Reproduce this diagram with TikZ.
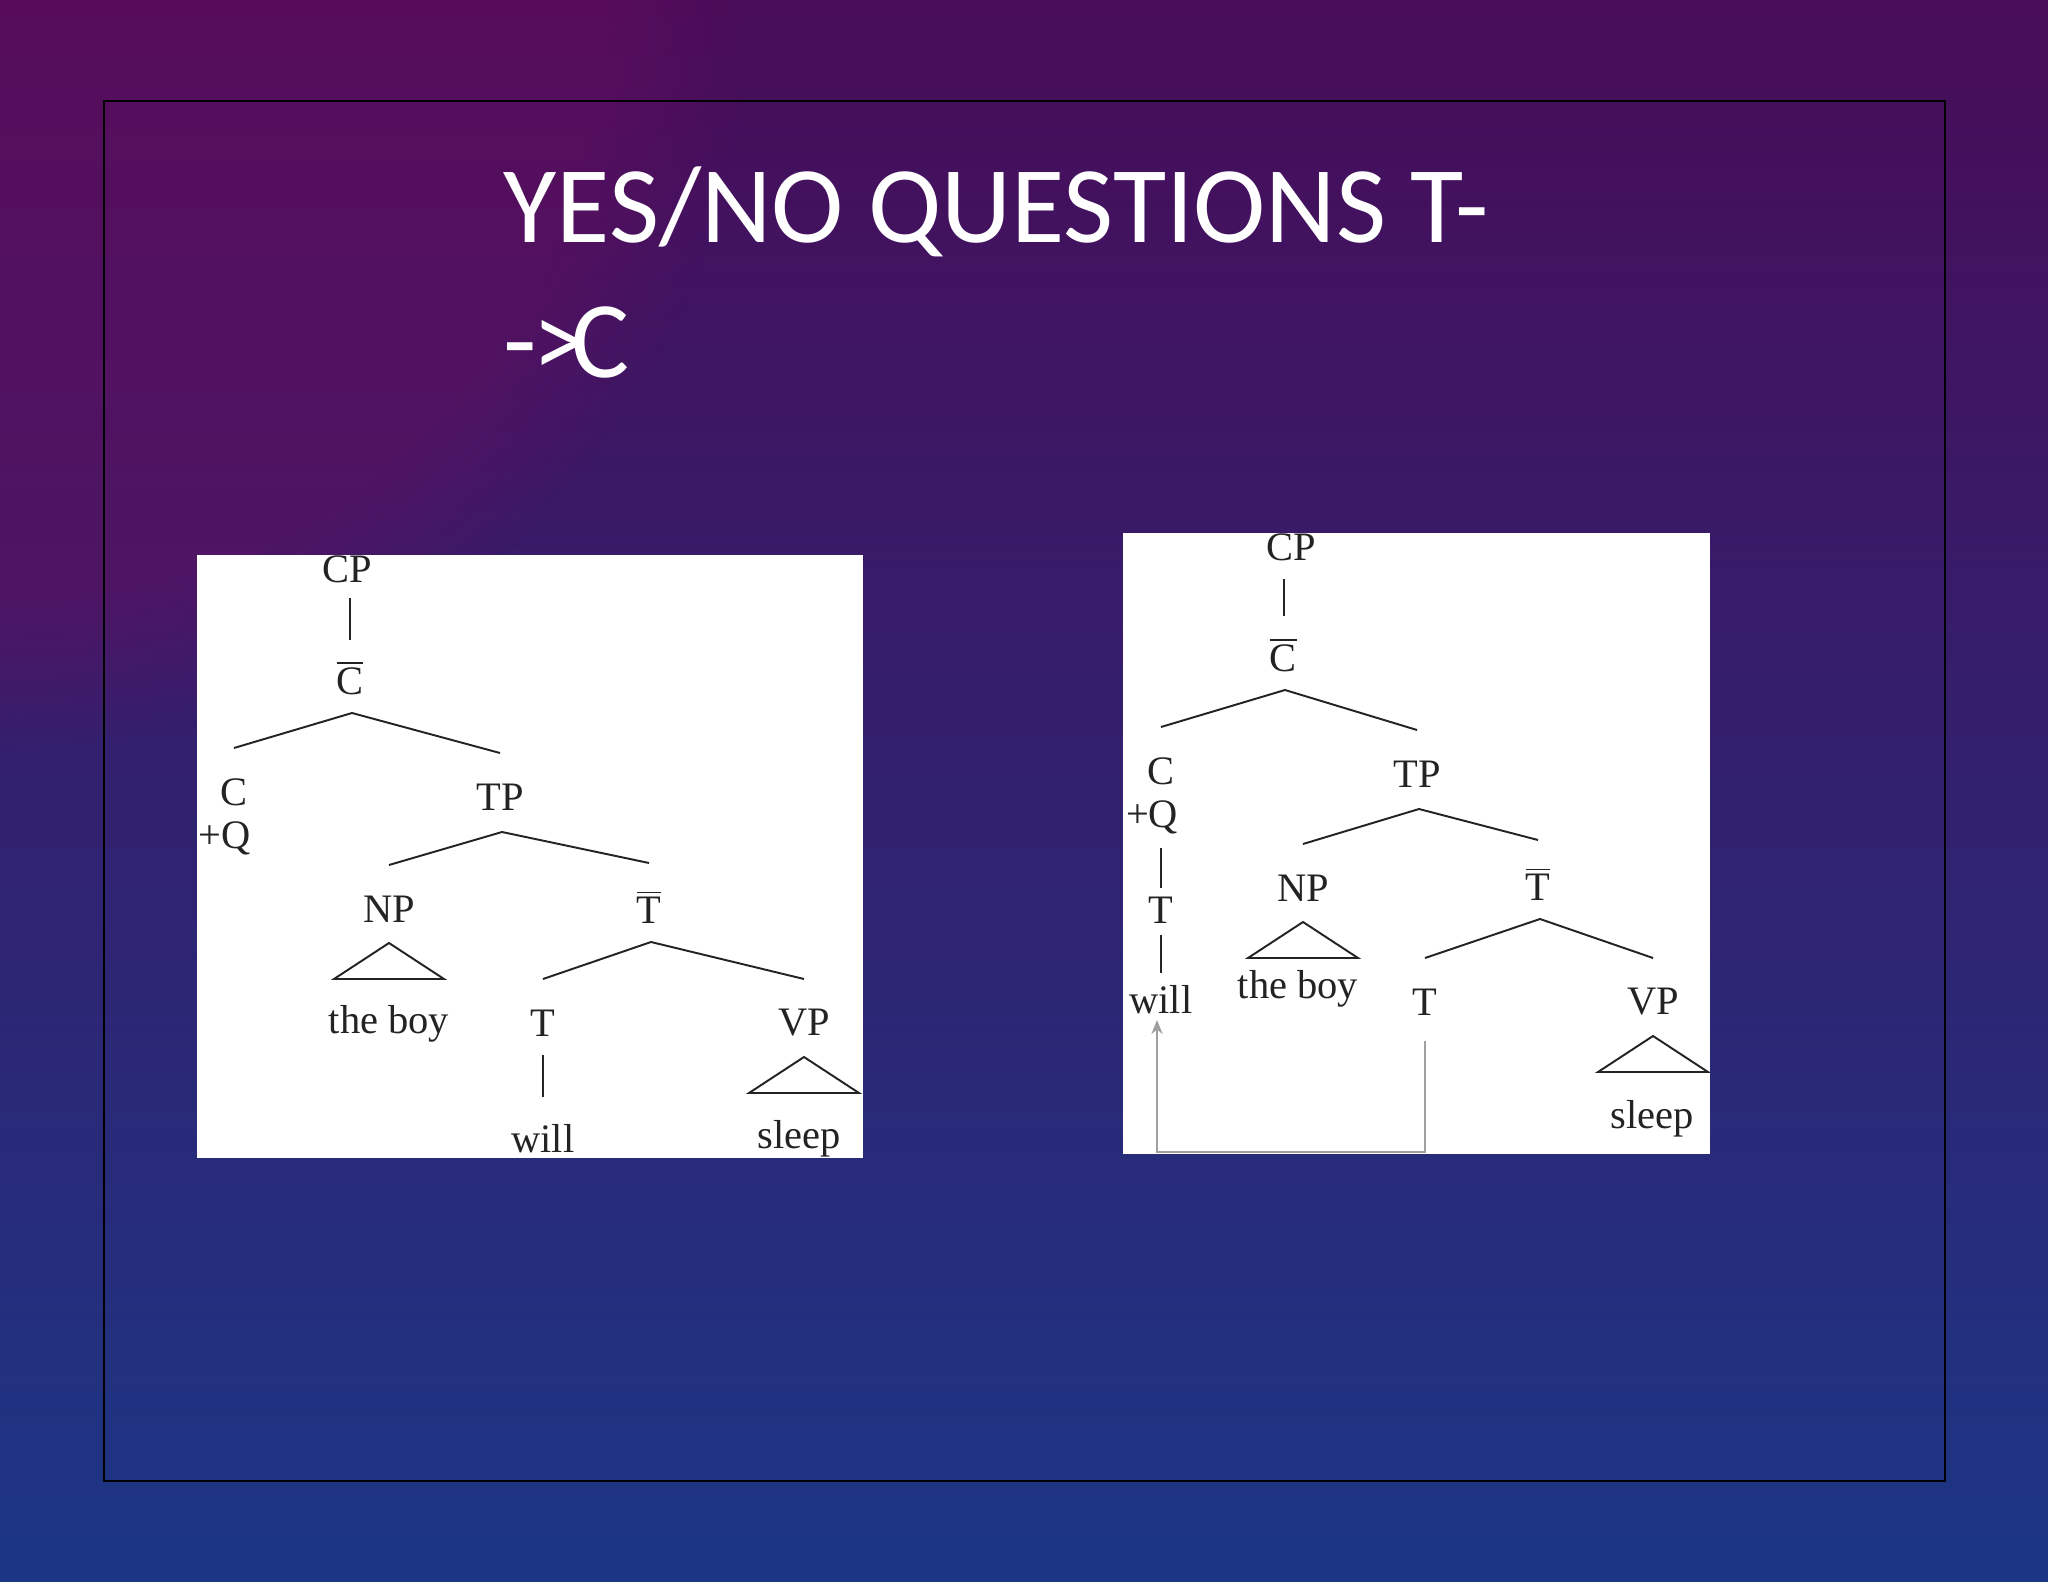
\documentclass[tikz,border=0pt]{standalone}
\usepackage{fontspec}
\setmainfont{Liberation Serif}
\newfontfamily\titlefont{Carlito}
\usetikzlibrary{calc, arrows.meta, fadings}

\definecolor{bgtop}{RGB}{72,12,88}
\definecolor{bgmid}{RGB}{58,28,110}
\definecolor{bgbot}{RGB}{28,54,134}
\definecolor{bgmag}{RGB}{104,14,96}
\definecolor{treeink}{RGB}{35,35,35}

\newcommand{\barred}[1]{$\overline{\hbox{#1}}$}
% triangle under a phrase
\newcommand{\roof}[1]{\draw[tree] ($(#1)+(0,34)$) -- ++(-55,36) -- ++(110,0) -- cycle;}
% two branches under a node
\newcommand{\branch}[3]{\draw[tree] ($(#2)+(0,-44)$) -- ($(#1)+(2,35)$) -- ($(#3)+(0,-44)$);}

\begin{document}
\begin{tikzpicture}[x=0.01cm, y=-0.01cm,
    lbl/.style={font=\fontsize{11.5}{13}\selectfont, text=treeink, inner sep=0pt},
    tree/.style={draw=treeink, line width=0.55pt},
    move/.style={draw=gray!75, line width=0.6pt, -{Stealth[length=4pt, width=3.2pt]}},
    titletext/.style={font=\titlefont\fontsize{31}{38}\selectfont, text=white, inner sep=0pt}]
    \useasboundingbox (0,0) rectangle (2048,1582);

    % background
    \shade[top color=bgtop, middle color=bgmid, bottom color=bgbot] (0,0) rectangle (2048,1582);
    \fill[bgmag, path fading=circle with fuzzy edge 20 percent, opacity=0.45] (0,0) circle (750);
    \draw[black, line width=0.6pt] (104,101) rectangle (1945,1481);

    % title
    \node[titletext, anchor=base west] (title1) at (503,242) {YES/NO QUESTIONS T-};
    \node[titletext, anchor=base west] (title2) at (503,377) {-\kern-0.04em>\kern-0.14em C};

    % left tree
    \fill[white] (197,555) rectangle (863,1158);
    \begin{scope}
        \clip (197,555) rectangle (863,1158);
        \node[lbl] (lcp) at (347,569) {CP};
        \node[lbl] (lcbar) at (350,678) {\barred{C}};
        \node[lbl] (lc) at (234,792) {C};
        \node[lbl] (lq) at (225,838) {+Q};
        \node[lbl] (ltp) at (500,797) {TP};
        \node[lbl] (lnp) at (389,909) {NP};
        \node[lbl] (ltbar) at (649,907) {\barred{T}};
        \node[lbl] (lboy) at (389,1024) {the boy};
        \node[lbl] (lt) at (543,1023) {T};
        \node[lbl] (lvp) at (804,1023) {VP};
        \node[lbl] (lwill) at (543,1139) {will};
        \node[lbl] (lsleep) at (799,1139) {sleep};

        \draw[tree] ($(lcp)+(3,29)$) -- ($(lcbar)+(0,-38)$);
        \branch{lcbar}{lc}{ltp}
        \branch{ltp}{lnp}{ltbar}
        \roof{lnp}
        \branch{ltbar}{lt}{lvp}
        \draw[tree] ($(lt)+(0,32)$) -- ($(lwill)+(0,-42)$);
        \roof{lvp}
    \end{scope}

    % right tree
    \fill[white] (1123,533) rectangle (1710,1154);
    \begin{scope}
        \clip (1123,533) rectangle (1710,1154);
        \node[lbl] (rcp) at (1291,547) {CP};
        \node[lbl] (rcbar) at (1283,655) {\barred{C}};
        \node[lbl] (rc) at (1161,771) {C};
        \node[lbl] (rq) at (1152,817) {+Q};
        \node[lbl] (rtc) at (1161,910) {T};
        \node[lbl] (rwill) at (1161,1000) {will};
        \node[lbl] (rtp) at (1417,774) {TP};
        \node[lbl] (rnp) at (1303,888) {NP};
        \node[lbl] (rtbar) at (1538,884) {\barred{T}};
        \node[lbl] (rboy) at (1298,989) {the boy};
        \node[lbl] (rt) at (1425,1002) {T};
        \node[lbl] (rvp) at (1653,1002) {VP};
        \node[lbl] (rsleep) at (1652,1119) {sleep};

        \draw[tree] ($(rcp)+(-7,32)$) -- ($(rcbar)+(1,-39)$);
        \branch{rcbar}{rc}{rtp}
        \draw[tree] ($(rq)+(9,31)$) -- ($(rtc)+(0,-22)$);
        \draw[tree] ($(rtc)+(0,25)$) -- ($(rwill)+(0,-27)$);
        \branch{rtp}{rnp}{rtbar}
        \roof{rnp}
        \branch{rtbar}{rt}{rvp}
        \roof{rvp}

        \coordinate (rcorner) at (1157,1152);
        \draw[move] ($(rt)+(0,39)$) |- (rcorner) -- ($(rwill)+(-4,20)$);
    \end{scope}
\end{tikzpicture}
\end{document}
